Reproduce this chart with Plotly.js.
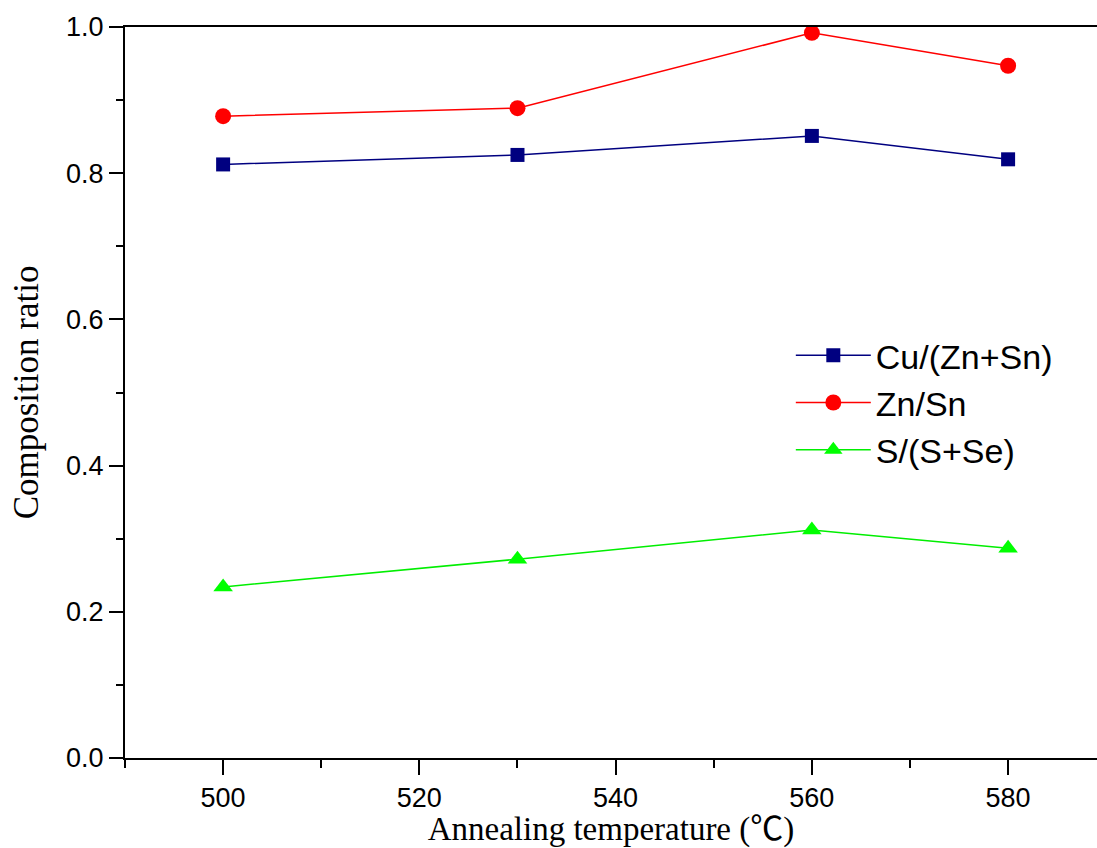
<!DOCTYPE html>
<html>
<head>
<meta charset="utf-8">
<script src="https://cdn.plot.ly/plotly-3.0.1.min.js"></script>
<style>html,body{margin:0;padding:0;background:#fff;}#chart{width:1097px;height:848px;}</style>
</head>
<body>
<div id="chart"></div>
<script>
const temperatures = [500, 530, 560, 580];
const cuZnSn = [0.812, 0.825, 0.851, 0.819];
const znSn = [0.878, 0.889, 0.992, 0.947];
const sSSe = [0.234, 0.272, 0.312, 0.287];
const seriesNames = ["Cu/(Zn+Sn)", "Zn/Sn", "S/(S+Se)"];

const traces = [
  {x: temperatures, y: cuZnSn, name: seriesNames[0], mode: "lines+markers",
   line: {color: "#000080", width: 1.5}, marker: {symbol: "square", size: 14, color: "#000080"}},
  {x: temperatures, y: znSn, name: seriesNames[1], mode: "lines+markers",
   line: {color: "#ff0000", width: 1.5}, marker: {symbol: "circle", size: 16, color: "#ff0000"}},
  {x: temperatures, y: sSSe, name: seriesNames[2], mode: "lines+markers",
   line: {color: "#00ee00", width: 1.5}, marker: {symbol: "triangle-up", size: 17, color: "#00ff00"}}
];

const layout = {
  width: 1097, height: 848,
  margin: {l: 125, r: 0, t: 27, b: 90},
  paper_bgcolor: "#fff", plot_bgcolor: "#fff",
  showlegend: true,
  legend: {x: 0.685, y: 0.59, xanchor: "left", yanchor: "top",
           font: {family: "Arial, Liberation Sans, sans-serif", size: 34, color: "#000"},
           bgcolor: "rgba(0,0,0,0)", tracegroupgap: 0, itemwidth: 75},
  xaxis: {
    range: [490, 589.06], showline: true, linecolor: "#000", linewidth: 2, mirror: true,
    showgrid: false, zeroline: false,
    tickmode: "linear", tick0: 500, dtick: 20,
    ticks: "outside", ticklen: 15, tickwidth: 2, tickcolor: "#000",
    minor: {tick0: 490, dtick: 10, ticks: "outside", ticklen: 8, tickwidth: 2, tickcolor: "#000"},
    tickfont: {family: "Arial, Liberation Sans, sans-serif", size: 27, color: "#000"},
    title: {text: "Annealing temperature (℃)", standoff: 6,
            font: {family: "Times New Roman, Liberation Serif, Noto Sans CJK SC, serif", size: 33, color: "#000"}}
  },
  yaxis: {
    range: [0, 1.0], showline: true, linecolor: "#000", linewidth: 2,
    showgrid: false, zeroline: false,
    tickmode: "linear", tick0: 0, dtick: 0.2, tickformat: ".1f",
    ticks: "outside", ticklen: 14, tickwidth: 2, tickcolor: "#000",
    minor: {tick0: 0, dtick: 0.1, ticks: "outside", ticklen: 7, tickwidth: 2, tickcolor: "#000"},
    tickfont: {family: "Arial, Liberation Sans, sans-serif", size: 27, color: "#000"},
    title: {text: "Composition ratio", standoff: 17,
            font: {family: "Times New Roman, Liberation Serif, serif", size: 35, color: "#000"}}
  }
};

Plotly.newPlot("chart", traces, layout, {displayModeBar: false, staticPlot: true});
</script>
</body>
</html>
